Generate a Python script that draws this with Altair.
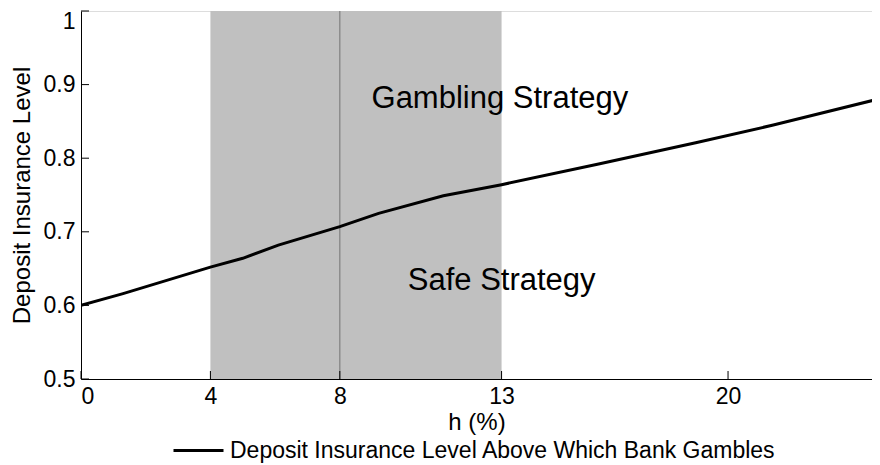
import altair as alt
import pandas as pd

# ---- data ----
h_vals = [0, 1.3, 4, 5, 6.1, 8, 9.2, 11.2, 13, 16, 19, 21.4, 24.7]
di_vals = [0.600, 0.616, 0.652, 0.664, 0.682, 0.707, 0.725, 0.749, 0.764, 0.792, 0.821, 0.845, 0.881]
series_name = "Deposit Insurance Level Above Which Bank Gambles"

band_start = [4]
band_end = [13]
vline_x = [8]
y_low = [0.5]
y_high = [1.0]

x_ticks = [0, 4, 8, 13, 20]
y_ticks = [0.5, 0.6, 0.7, 0.8, 0.9, 1.0]

labels_text = ["Gambling Strategy", "Safe Strategy"]
labels_x = [8.98, 10.1]
labels_y = [0.868, 0.621]

X_MAX = 24.45
W, H = 791, 368
FONT = "Liberation Sans"

xs = alt.Scale(domain=[0, X_MAX], nice=False, zero=False)
ys = alt.Scale(domain=[0.5, 1.0], nice=False, zero=False)

line_df = pd.DataFrame({"h": h_vals, "v": di_vals, "series": [series_name] * len(h_vals)})
band_df = pd.DataFrame({"x0": band_start, "x1": band_end, "y0": y_low, "y1": y_high})
vline_df = pd.DataFrame({"x": vline_x, "y0": y_low, "y1": y_high})
xt_df = pd.DataFrame({"t": x_ticks})
yt_df = pd.DataFrame({"t": y_ticks})
txt_df = pd.DataFrame({"label": labels_text, "x": labels_x, "y": labels_y})

band = alt.Chart(band_df).mark_rect(color="#c0c0c0").encode(
    x=alt.X("x0:Q", scale=xs,
            axis=alt.Axis(values=x_ticks, title="h (%)", ticks=False, tickSize=0,
                          labelPadding=6, labelFontSize=23, titleFontSize=24,
                          titleFontWeight="normal", titlePadding=2,
                          domainColor="black", labelColor="black", titleColor="black",
                          grid=False, labelFont=FONT, titleFont=FONT)),
    x2="x1:Q",
    y=alt.Y("y0:Q", scale=ys,
            axis=alt.Axis(values=y_ticks, title="Deposit Insurance Level", ticks=False,
                          tickSize=0, labelPadding=6, labelFontSize=23, titleFontSize=24,
                          titleFontWeight="normal", titlePadding=9, format=".1~f",
                          labelOffset=alt.condition("datum.value == 1", alt.value(10), alt.value(0)),
                          domainColor="black", labelColor="black", titleColor="black",
                          grid=False, labelFont=FONT, titleFont=FONT)),
    y2="y1:Q",
)

vline = alt.Chart(vline_df).mark_rule(color="#7f7f7f", strokeWidth=1.2).encode(
    x=alt.X("x:Q", scale=xs), y=alt.Y("y0:Q", scale=ys), y2="y1:Q"
)

line = alt.Chart(line_df).mark_line(strokeWidth=3, clip=True).encode(
    x=alt.X("h:Q", scale=xs),
    y=alt.Y("v:Q", scale=ys),
    color=alt.Color("series:N",
                    scale=alt.Scale(domain=[series_name], range=["black"]),
                    legend=alt.Legend(title=None, orient="none", legendX=91, legendY=413,
                                      symbolType="stroke", symbolSize=2500,
                                      symbolStrokeWidth=3, labelFontSize=23,
                                      labelFont=FONT, labelColor="black", labelLimit=0,
                                      labelOffset=5, padding=0)),
)

yticks = alt.Chart(yt_df).mark_rule(color="black", strokeWidth=1).encode(
    y=alt.Y("t:Q", scale=ys), x=alt.value(0), x2=alt.value(8)
)
xticks = alt.Chart(xt_df).mark_rule(color="black", strokeWidth=1).encode(
    x=alt.X("t:Q", scale=xs), y=alt.value(H), y2=alt.value(H - 8)
)

texts = alt.Chart(txt_df).mark_text(
    align="left", baseline="alphabetic", fontSize=31, font=FONT, color="black"
).encode(x=alt.X("x:Q", scale=xs), y=alt.Y("y:Q", scale=ys), text="label:N")

chart = alt.layer(band, vline, line, yticks, xticks, texts).properties(
    width=W, height=H,
    autosize=alt.AutoSizeParams(type="none"),
    padding={"left": 73, "top": 3, "right": 0, "bottom": 86},
).configure_view(stroke=None).configure(background="white")

chart.save("out.html", embed_options={"renderer": "svg", "actions": False})
